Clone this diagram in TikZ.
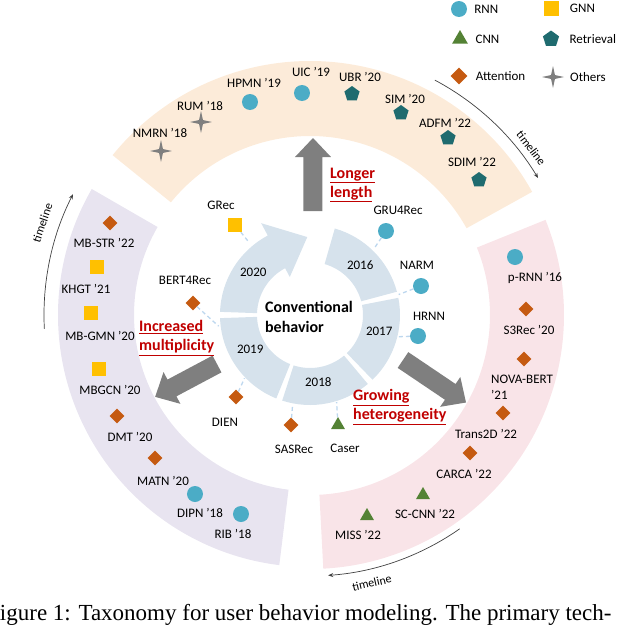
\documentclass[tikz,border=0pt]{standalone}
\usepackage{fontspec}
\setmainfont{Carlito}
\newfontfamily\capfont{Liberation Serif}
\usetikzlibrary{arrows.meta,positioning,shapes.geometric}

\definecolor{rnncol}{HTML}{4BACC6}
\definecolor{gnncol}{HTML}{FFC000}
\definecolor{cnncol}{HTML}{548235}
\definecolor{retcol}{HTML}{1F6B6F}
\definecolor{attcol}{HTML}{C55A11}
\definecolor{othcol}{HTML}{7F7F7F}
\definecolor{arrowgray}{HTML}{7F7F7F}
\definecolor{redtxt}{HTML}{C00000}
\definecolor{bandorange}{HTML}{FCEBD9}
\definecolor{bandpurple}{HTML}{E8E4F0}
\definecolor{bandpink}{HTML}{F9E4E8}
\definecolor{ringblue}{HTML}{D6E2EC}
\definecolor{dashblue}{HTML}{BDD7EE}

\tikzset{lbl/.style={font=\fontsize{13}{16}\selectfont, inner sep=1pt},
         rnn/.style={circle, fill=rnncol, minimum size=16pt, inner sep=0pt},
         gnn/.style={rectangle, fill=gnncol, minimum size=14pt, inner sep=0pt},
         cnn/.style={regular polygon, regular polygon sides=3, fill=cnncol, minimum size=16pt, inner sep=0pt},
         retr/.style={regular polygon, regular polygon sides=5, fill=retcol, minimum size=16pt, inner sep=0pt},
         attn/.style={diamond, fill=attcol, minimum size=15pt, inner sep=0pt},
         other/.style={star, star points=4, star point ratio=4, fill=othcol, minimum size=22pt, inner sep=0pt},
         redlbl/.style={font=\bfseries\fontsize{16}{19}\selectfont, text=redtxt, align=left, inner sep=0pt},
         conn/.style={draw=dashblue, line width=1.3pt, dash pattern=on 4pt off 3pt},
         timeline/.style={draw=black!75, line width=0.7pt, -{Stealth[length=5pt,width=4pt]}},
         tl/.style={font=\fontsize{12}{14}\selectfont, inner sep=0pt}}

\begin{document}
\begin{tikzpicture}[x=1pt,y=1pt]
  \useasboundingbox (-310,-310) rectangle (330,315);
  \clip (-310,-310) rectangle (330,315);

  % outer bands
  \fill[bandorange] (29:179) arc[start angle=29,end angle=141,radius=179] -- (141:254) arc[start angle=141,end angle=29,radius=254] -- cycle;
  \fill[bandpurple] (150:176) arc[start angle=150,end angle=263,radius=176] -- (263:252) arc[start angle=263,end angle=150,radius=252] -- cycle;
  \fill[bandpink] (-87:180) arc[start angle=-87,end angle=22,radius=180] -- (22:254) arc[start angle=22,end angle=-87,radius=254] -- cycle;

  % timelines
  \draw[timeline] (62:266) arc[start angle=62,end angle=31,radius=266];
  \draw[timeline] (183:266) arc[start angle=183,end angle=153,radius=266];
  \draw[timeline] (-55:261) arc[start angle=-55,end angle=-86,radius=261];
  \node (tlTop)   [tl, rotate=-53] at (37:277)  {timeline};
  \node (tlLeft)  [tl, rotate=71]  at (161:283) {timeline};
  \node (tlBot)   [tl, rotate=13]  at (-77:275) {timeline};

  % inner ring
  \foreach \a/\b in {15/74, 314/371, 252/310, 182/248}
    \fill[ringblue] (\a:53) arc[start angle=\a,end angle=\b,radius=53] -- (\b:90) arc[start angle=\b,end angle=\a,radius=90] -- cycle;
  \fill[ringblue] (178:53) arc[start angle=178,end angle=118,radius=53] -- (118:43) -- (92:78) -- (118:104) -- (118:90) arc[start angle=118,end angle=178,radius=90] -- cycle;

  \node (y2016) [lbl] at (45:71)  {2016};
  \node (y2017) [lbl] at (-13:71) {2017};
  \node (y2018) [lbl] at (-83:68) {2018};
  \node (y2019) [lbl] at (210:69) {2019};
  \node (y2020) [lbl] at (143:71) {2020};
  \node (conv) [font=\bfseries\fontsize{16}{20}\selectfont, align=left, inner sep=0pt] at (-1,-2) {Conventional\\behavior};

  % big arrows
  \foreach \x/\y/\a/\l in {3/104/90/73, -93/-49/208/70, 93/-45/-34/76}
    \fill[arrowgray, shift={(\x,\y)}, rotate=\a] (0,-9.5) -- (\l-19,-9.5) -- (\l-19,-18) -- (\l,0) -- (\l-19,18) -- (\l-19,9.5) -- (0,9.5) -- cycle;

  \node (longer) [redlbl, anchor=west] at (20,130)    {\underline{Longer}\\\underline{length}};
  \node (multi)  [redlbl, anchor=west] at (-171,-23)  {\underline{Increased}\\\underline{multiplicity}};
  \node (hetero) [redlbl, anchor=west] at (43,-92)    {\underline{Growing}\\\underline{heterogeneity}};

  % legend
  \node (rnnM) [rnn] at (149,306) {};
  \node (rnnL) [lbl, right=6pt of rnnM] {RNN};
  \node (gnnM) [gnn, minimum size=15pt] at (241,307) {};
  \node (gnnL) [lbl, right=10pt of gnnM] {GNN};
  \node (cnnM) [cnn, minimum size=18pt] at (150,276) {};
  \node (cnnL) [lbl, right=9pt of cnnM] {CNN};
  \node (retM) [retr, minimum size=17pt] at (241,276) {};
  \node (retL) [lbl, right=10pt of retM] {Retrieval};
  \node (attM) [attn, minimum size=17pt] at (149,239) {};
  \node (attL) [lbl, right=7pt of attM] {Attention};
  \node (othM) [other] at (243,238) {};
  \node (othL) [lbl, right=4pt of othM] {Others};

  % longer length
  \node (nmrn) [other] at (-149,164) {};
  \node (nmrnL) [lbl] at (-150,182) {NMRN ’18};
  \node (rum) [other] at (-109,193) {};
  \node (rumL) [lbl] at (-110,209) {RUM ’18};
  \node (hpmn) [rnn] at (-60,213) {};
  \node (hpmnL) [lbl] at (-56,232) {HPMN ’19};
  \node (uic) [rnn] at (-8,222) {};
  \node (uicL) [lbl] at (1,243) {UIC ’19};
  \node (ubr) [retr] at (42,221) {};
  \node (ubrL) [lbl] at (50,238) {UBR ’20};
  \node (sim) [retr] at (91,202) {};
  \node (simL) [lbl] at (95,216) {SIM ’20};
  \node (adfm) [retr] at (138,177) {};
  \node (adfmL) [lbl] at (135,192) {ADFM ’22};
  \node (sdim) [retr] at (169,135) {};
  \node (sdimL) [lbl] at (162,153) {SDIM ’22};

  % increased multiplicity
  \node (mbstr) [attn] at (-200,92) {};
  \node (mbstrL) [lbl] at (-206,72) {MB-STR ’22};
  \node (khgt) [gnn] at (-213,48) {};
  \node (khgtL) [lbl] at (-224,26) {KHGT ’21};
  \node (mbgmn) [gnn] at (-219,2) {};
  \node (mbgmnL) [lbl] at (-210,-21) {MB-GMN ’20};
  \node (mbgcn) [gnn] at (-211,-54) {};
  \node (mbgcnL) [lbl] at (-200,-75) {MBGCN ’20};
  \node (dmt) [attn] at (-193,-101) {};
  \node (dmtL) [lbl] at (-180,-122) {DMT ’20};
  \node (matn) [attn] at (-155,-143) {};
  \node (matnL) [lbl] at (-147,-166) {MATN ’20};
  \node (dipn) [rnn] at (-115,-179) {};
  \node (dipnL) [lbl] at (-110,-198) {DIPN ’18};
  \node (rib) [rnn] at (-69,-199) {};
  \node (ribL) [lbl] at (-77,-219) {RIB ’18};

  % growing heterogeneity
  \node (prnn) [rnn] at (205,58) {};
  \node (prnnL) [lbl] at (225,37) {p-RNN ’16};
  \node (s3rec) [attn] at (216,6) {};
  \node (s3recL) [lbl] at (219,-15) {S3Rec ’20};
  \node (nova) [attn] at (214,-44) {};
  \node (novaL) [lbl, align=left, anchor=west] at (180,-72) {NOVA-BERT\\’21};
  \node (trans) [attn] at (193,-98) {};
  \node (transL) [lbl] at (176,-119) {Trans2D ’22};
  \node (carca) [attn] at (160,-138) {};
  \node (carcaL) [lbl] at (154,-159) {CARCA ’22};
  \node (sccnn) [cnn] at (113,-180) {};
  \node (sccnnL) [lbl] at (115,-199) {SC-CNN ’22};
  \node (miss) [cnn] at (57,-201) {};
  \node (missL) [lbl] at (48,-220) {MISS ’22};

  % conventional models
  \coordinate (grecR)  at (130:95);
  \coordinate (gruR)   at (46:92);
  \coordinate (narmR)  at (13:91);
  \coordinate (hrnnR)  at (-14:90);
  \coordinate (bertR)  at (187:92);
  \coordinate (dienR)  at (224:91);
  \coordinate (sasR)   at (259:91);
  \coordinate (caserR) at (287:91);
  \node (grec) [gnn] at (-75,90) {};
  \node (grecL) [lbl] at (-89,110) {GRec};
  \node (gru) [rnn] at (76,84) {};
  \node (gruL) [lbl] at (88,105) {GRU4Rec};
  \node (narm) [rnn] at (111,29) {};
  \node (narmL) [lbl] at (107,50) {NARM};
  \node (hrnn) [rnn] at (108,-21) {};
  \node (hrnnL) [lbl] at (119,-1) {HRNN};
  \node (bert) [attn] at (-117,12) {};
  \node (bertL) [lbl] at (-125,35) {BERT4Rec};
  \node (dien) [attn] at (-74,-82) {};
  \node (dienL) [lbl] at (-85,-107) {DIEN};
  \node (sas) [attn] at (-19,-110) {};
  \node (sasL) [lbl] at (-16,-134) {SASRec};
  \node (caser) [cnn] at (28,-110) {};
  \node (caserL) [lbl] at (35,-133) {Caser};

  \path[conn] (grec) -- (grecR)  (gru) -- (gruR)  (narm) -- (narmR)  (hrnn) -- (hrnnR)
              (bert) -- (bertR)  (dien) -- (dienR)  (sas) -- (sasR)  (caser) -- (caserR);

  \node (caption) [anchor=base west, font=\capfont\fontsize{23}{26}\selectfont, inner sep=0pt] at (-323,-305) {Figure 1: Taxonomy for user behavior modeling. The primary tech-};
\end{tikzpicture}
\end{document}
